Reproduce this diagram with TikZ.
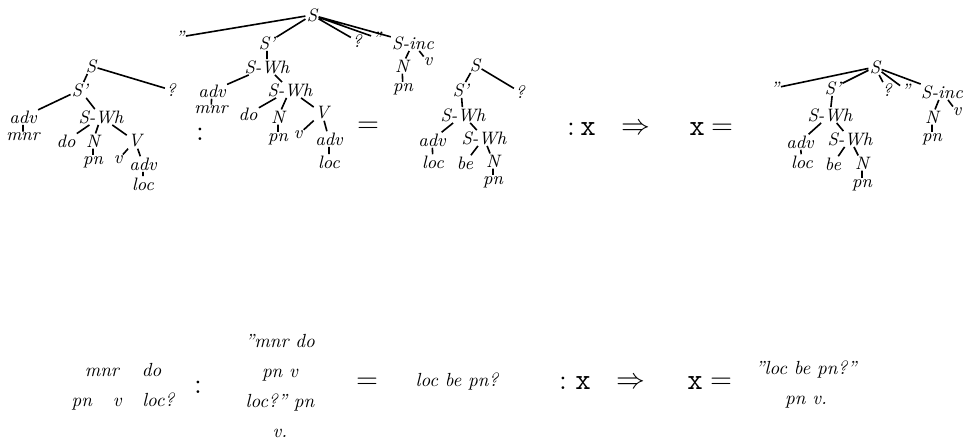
\documentclass[tikz,border=0pt]{standalone}
\usepackage{tikz}
\tikzset{
  tn/.style={font=\fontsize{9}{9}\selectfont\itshape, inner sep=0.5pt},
  br/.style={line width=0.8pt},
  op/.style={font=\fontsize{15}{15}\selectfont, inner sep=0pt},
  tx/.style={font=\fontsize{9.5}{15}\selectfont\itshape, align=center, inner sep=0pt}
}
\begin{document}
\begin{tikzpicture}[x=0.5pt, y=-0.5pt]
\useasboundingbox (0,0) rectangle (966,444);
% first tree: mnr do pn v loc?
\node[tn] (S1) at (91,66) {S};
\node[tn] (Sp1) at (80,90) {S\textquoteright};
\node[tn] (Q1) at (171,90) {?};
\node[tn] (Adv1) at (23,117) {adv};
\node[tn] (Mnr1) at (23,137) {mnr};
\node[tn] (SWh1) at (101,117) {S-Wh};
\node[tn] (Do1) at (66,141) {do};
\node[tn] (N1) at (93,141) {N};
\node[tn] (Pn1) at (93,162) {pn};
\node[tn] (V1) at (135,141) {V};
\node[tn] (v1) at (118,160) {v};
\node[tn] (AdvB1) at (143,164) {adv};
\node[tn] (Loc1) at (143,184) {loc};
\draw[br] (S1)--(Sp1) (S1)--(Q1) (Sp1)--(Adv1) (Sp1)--(SWh1) (Adv1)--(Mnr1);
\draw[br] (SWh1)--(Do1) (SWh1)--(N1) (SWh1)--(V1) (N1)--(Pn1);
\draw[br] (V1)--(v1) (V1)--(AdvB1) (AdvB1)--(Loc1);
\node[op] (Col1) at (200,134) {$:$};
% second tree: quoted string + pn v
\node[tn] (S2) at (312,15) {S};
\node[tn] (Qo2) at (180,37) {\textquotedblright};
\node[tn] (Sp2) at (267,43) {S\textquoteright};
\node[tn] (Q2) at (357,41) {?};
\node[tn] (Qc2) at (377,38) {\textquotedblright};
\node[tn] (Sinc2) at (413,43) {S-inc};
\node[tn] (N2b) at (402,66) {N};
\node[tn] (v2b) at (428,62) {v};
\node[tn] (Pn2b) at (403,89) {pn};
\node[tn] (SWh2a) at (267,67) {S-Wh};
\node[tn] (Adv2) at (212,91) {adv};
\node[tn] (Mnr2) at (211,110) {mnr};
\node[tn] (SWh2b) at (290,90) {S-Wh};
\node[tn] (Do2) at (248,114) {do};
\node[tn] (N2) at (278,117) {N};
\node[tn] (Pn2) at (278,139) {pn};
\node[tn] (V2) at (322,113) {V};
\node[tn] (v2) at (298,135) {v};
\node[tn] (AdvB2) at (329,139) {adv};
\node[tn] (Loc2) at (329,162) {loc};
\draw[br] (S2)--(Qo2) (S2)--(Sp2) (S2)--(Q2) (S2)--(Qc2) (S2)--(Sinc2);
\draw[br] (Sinc2)--(N2b) (Sinc2)--(v2b) (N2b)--(Pn2b);
\draw[br] (Sp2)--(SWh2a) (SWh2a)--(Adv2) (SWh2a)--(SWh2b) (Adv2)--(Mnr2);
\draw[br] (SWh2b)--(Do2) (SWh2b)--(N2) (SWh2b)--(V2) (N2)--(Pn2);
\draw[br] (V2)--(v2) (V2)--(AdvB2) (AdvB2)--(Loc2);
\node[op] (Eq1) at (368,127) {$=$};
% third tree: loc be pn?
\node[tn] (S3) at (475,65) {S};
\node[tn] (Sp3) at (461,90) {S\textquoteright};
\node[tn] (Q3) at (520,92) {?};
\node[tn] (SWh3a) at (463,115) {S-Wh};
\node[tn] (Adv3) at (432,140) {adv};
\node[tn] (Loc3) at (433,162) {loc};
\node[tn] (SWh3b) at (484,138) {S-Wh};
\node[tn] (Be3) at (465,163) {be};
\node[tn] (N3) at (493,161) {N};
\node[tn] (Pn3) at (493,182) {pn};
\draw[br] (S3)--(Sp3) (S3)--(Q3) (Sp3)--(SWh3a) (SWh3a)--(Adv3) (SWh3a)--(SWh3b);
\draw[br] (Adv3)--(Loc3) (SWh3b)--(Be3) (SWh3b)--(N3) (N3)--(Pn3);
% operators
\node[op] (Col2) at (571,129) {$:$};
\node[op] (X1) at (588,129) {\texttt{x}};
\node[op] (Imp1) at (636,129) {$\Rightarrow$};
\node[op] (X2) at (697,129) {\texttt{x}};
\node[op] (Eq2) at (722,129) {$=$};
% fourth tree: result
\node[tn] (S4) at (875,67) {S};
\node[tn] (Qo4) at (775,88) {\textquotedblright};
\node[tn] (Sp4) at (833,88) {S\textquoteright};
\node[tn] (Q4) at (887,90) {?};
\node[tn] (Qc4) at (906,90) {\textquotedblright};
\node[tn] (Sinc4) at (942,92) {S-inc};
\node[tn] (N4b) at (932,117) {N};
\node[tn] (v4b) at (957,112) {v};
\node[tn] (Pn4b) at (932,139) {pn};
\node[tn] (SWh4a) at (830,115) {S-Wh};
\node[tn] (Adv4) at (800,142) {adv};
\node[tn] (Loc4) at (802,162) {loc};
\node[tn] (SWh4b) at (850,139) {S-Wh};
\node[tn] (Be4) at (833,164) {be};
\node[tn] (N4) at (862,163) {N};
\node[tn] (Pn4) at (862,185) {pn};
\draw[br] (S4)--(Qo4) (S4)--(Sp4) (S4)--(Q4) (S4)--(Qc4) (S4)--(Sinc4);
\draw[br] (Sinc4)--(N4b) (Sinc4)--(v4b) (N4b)--(Pn4b);
\draw[br] (Sp4)--(SWh4a) (SWh4a)--(Adv4) (SWh4a)--(SWh4b) (Adv4)--(Loc4);
\draw[br] (SWh4b)--(Be4) (SWh4b)--(N4) (N4)--(Pn4);
% bottom row: the same as strings
\node[tx] (Str1) at (123,387) {mnr\hspace{8pt} do\\pn\hspace{7pt} v\hspace{7pt} loc?};
\node[op] (Col3) at (198,387) {$:$};
\node[tx] (Str2) at (280,386) {\textquotedblright mnr do\\pn v\\loc?\textquotedblright\ pn\\v.};
\node[op] (Eq3) at (367,383) {$=$};
\node[tx] (Str3) at (457,382) {loc be pn?};
\node[op] (Col4) at (563,383) {$:$};
\node[op] (X3) at (583,383) {\texttt{x}};
\node[op] (Imp2) at (631,383) {$\Rightarrow$};
\node[op] (X4) at (695,383) {\texttt{x}};
\node[op] (Eq4) at (721,383) {$=$};
\node[tx] (Str4) at (806,385) {\textquotedblright loc be pn?\textquotedblright\\pn v.};
\end{tikzpicture}
\end{document}
